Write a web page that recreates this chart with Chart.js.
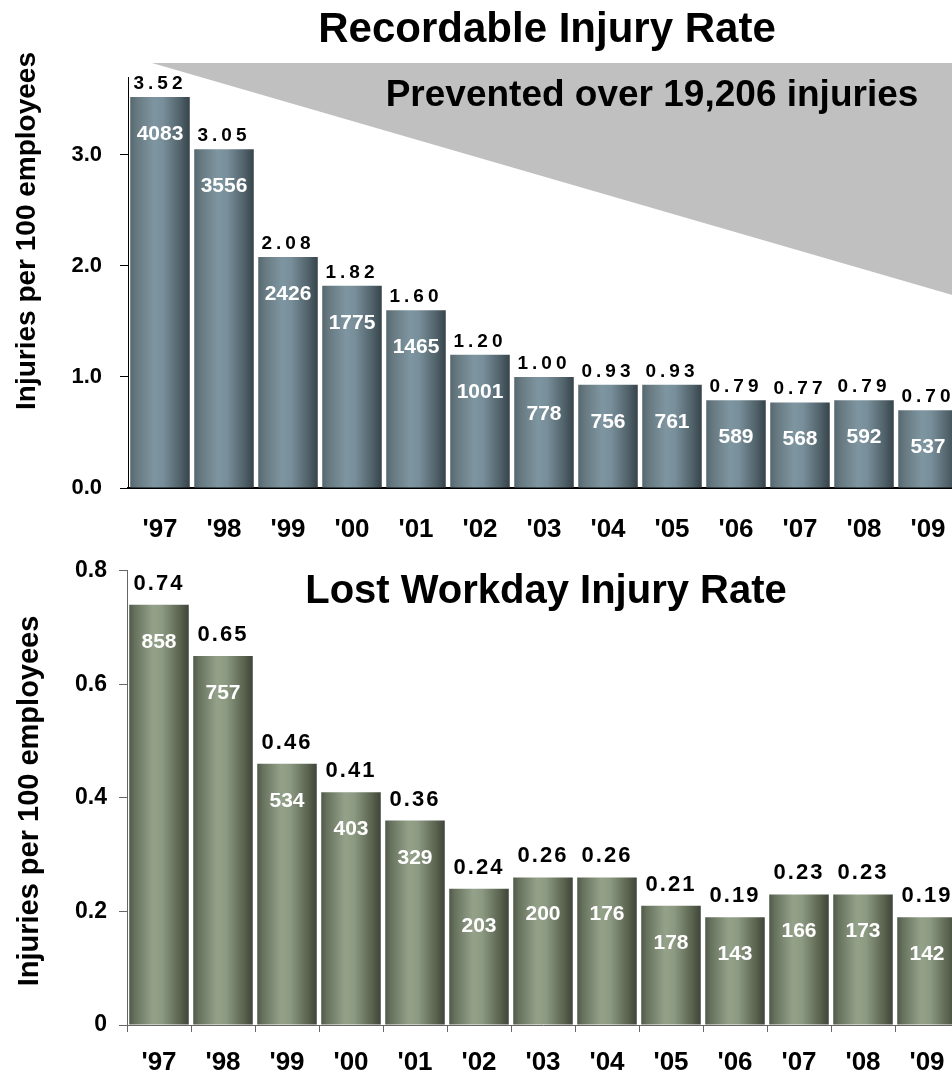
<!DOCTYPE html>
<html><head><meta charset="utf-8">
<script src="https://cdn.jsdelivr.net/npm/chart.js@4.4.1/dist/chart.umd.min.js"></script>
<style>
html,body{margin:0;padding:0;background:#fff;overflow:hidden;width:952px;height:1073px;}
#wrap{position:relative;width:952px;height:1073px;overflow:hidden;background:#fff;}
canvas{position:absolute;left:0;}
#c1{top:0;}
#c2{top:545px;}
</style></head><body>
<div id="wrap">
<canvas id="c1" width="980" height="545"></canvas>
<canvas id="c2" width="980" height="528"></canvas>
</div>
<script>
// ---- data ----
const years = ["'97","'98","'99","'00","'01","'02","'03","'04","'05","'06","'07","'08","'09"];
const recordableRates = [3.52, 3.05, 2.08, 1.82, 1.60, 1.20, 1.00, 0.93, 0.93, 0.79, 0.77, 0.79, 0.70];
const recordableCounts = [4083, 3556, 2426, 1775, 1465, 1001, 778, 756, 761, 589, 568, 592, 537];
const lostRates = [0.74, 0.65, 0.46, 0.41, 0.36, 0.24, 0.26, 0.26, 0.21, 0.19, 0.23, 0.23, 0.19];
const lostCounts = [858, 757, 534, 403, 329, 203, 200, 176, 178, 143, 166, 173, 142];
const recordableTickValues = [0, 1, 2, 3];
const recordableTickLabels = ['0.0', '1.0', '2.0', '3.0'];
const lostTickValues = [0, 0.2, 0.4, 0.6, 0.8];
const lostTickLabels = ['0', '0.2', '0.4', '0.6', '0.8'];
const recordableTitle = 'Recordable Injury Rate';
const lostTitle = 'Lost Workday Injury Rate';
const preventedText = 'Prevented over 19,206 injuries';
const yAxisTitle = 'Injuries per 100 employees';

// ---- style ----
const FONT = "'Liberation Sans', Arial, Helvetica, sans-serif";
const BAR_PCT = 0.93;
const blueStops = [[0, '#56676f'], [0.1, '#66787f'], [0.4, '#7e96a1'], [0.55, '#788f9a'], [0.85, '#4f6068'], [1, '#36434a']];
const greenStops = [[0, '#515a49'], [0.1, '#68735f'], [0.4, '#95a28a'], [0.55, '#8d9a82'], [0.85, '#5a6450'], [1, '#3e4538']];

function barGradient(stops) {
  return function (c) {
    const chart = c.chart;
    const xs = chart.scales && chart.scales.x;
    if (!xs || !xs.width || c.type !== 'data') return stops[2][1];
    const cx = xs.getPixelForValue(c.dataIndex);
    const w = xs.width / years.length * BAR_PCT;
    const g = chart.ctx.createLinearGradient(cx - w / 2, 0, cx + w / 2, 0);
    stops.forEach(s => g.addColorStop(s[0], s[1]));
    return g;
  };
}

function makePlugin(o) {
  return {
    id: 'deco' + o.key,
    beforeDatasetsDraw(chart) {
      if (o.triangle) {
        const ctx = chart.ctx;
        ctx.save();
        ctx.fillStyle = '#c0c0c0';
        ctx.beginPath();
        ctx.moveTo(152, 63);
        ctx.lineTo(990, 63);
        ctx.lineTo(990, 63 + 0.29 * (990 - 152));
        ctx.closePath();
        ctx.fill();
        ctx.fillStyle = '#000';
        ctx.font = 'bold 37px ' + FONT;
        ctx.textAlign = 'center';
        ctx.textBaseline = 'alphabetic';
        ctx.fillText(preventedText, 652, 106);
        ctx.restore();
      }
    },
    afterDatasetsDraw(chart) {
      const ctx = chart.ctx;
      const meta = chart.getDatasetMeta(0);
      meta.data.forEach((bar, i) => {
        ctx.save();
        ctx.textAlign = 'center';
        ctx.textBaseline = 'alphabetic';
        ctx.fillStyle = '#000';
        ctx.font = o.valueFont;
        ctx.letterSpacing = o.valueSpacing;
        ctx.fillText(o.values[i].toFixed(2), bar.x, bar.y - o.valueGap);
        ctx.letterSpacing = '0px';
        ctx.fillStyle = '#fff';
        ctx.font = 'bold 21px ' + FONT;
        ctx.fillText(String(o.counts[i]), bar.x, bar.y + o.countGap);
        ctx.restore();
      });
    },
    afterDraw(chart) {
      const ctx = chart.ctx;
      ctx.save();
      ctx.fillStyle = '#000';
      ctx.textAlign = 'center';
      ctx.textBaseline = 'alphabetic';
      ctx.font = o.titleFont;
      ctx.fillText(o.title, o.titleX, o.titleY);
      ctx.translate(o.yTitleX, o.yTitleY);
      ctx.rotate(-Math.PI / 2);
      ctx.font = o.yTitleFont;
      ctx.fillText(yAxisTitle, 0, 0);
      ctx.restore();
    }
  };
}

function build(canvasId, o) {
  return new Chart(document.getElementById(canvasId), {
    type: 'bar',
    data: {
      labels: years,
      datasets: [{
        data: o.values,
        backgroundColor: barGradient(o.stops),
        borderWidth: 0,
        categoryPercentage: 1,
        barPercentage: BAR_PCT
      }]
    },
    options: {
      responsive: false,
      devicePixelRatio: 1,
      animation: false,
      events: [],
      layout: { padding: { top: o.padTop, right: o.padRight, left: 0, bottom: 0 } },
      plugins: { legend: { display: false }, tooltip: { enabled: false }, title: { display: false } },
      scales: {
        x: {
          type: 'category',
          afterFit(s) { s.height = o.xHeight; },
          grid: o.xGrid,
          border: o.xBorder,
          ticks: { color: '#000', font: { family: FONT, size: 26, weight: 'bold' }, padding: o.xPad, maxRotation: 0, autoSkip: false }
        },
        y: {
          min: 0, max: o.yMax,
          afterFit(s) { s.width = o.yWidth; },
          afterBuildTicks(s) { s.ticks = o.tickValues.map(v => ({ value: v })); },
          grid: { display: true, drawOnChartArea: false, drawTicks: true, tickLength: 8, color: o.axisColor, lineWidth: 1 },
          border: { display: true, color: o.axisColor, width: 1 },
          ticks: {
            color: '#000',
            font: { family: FONT, size: o.yTickSize, weight: 'bold' },
            padding: o.yPad,
            callback: (v, i) => o.tickLabels[i]
          }
        }
      }
    },
    plugins: [makePlugin(o)]
  });
}

build('c1', {
  key: 'top', values: recordableRates, counts: recordableCounts, stops: blueStops,
  padTop: 77, padRight: 20, xHeight: 57, yWidth: 128, yMax: 3.7,
  tickValues: recordableTickValues, tickLabels: recordableTickLabels,
  xGrid: { display: false }, xBorder: { display: true, color: '#000', width: 2 }, xPad: 18,
  axisColor: '#000', yTickSize: 22, yPad: 18,
  valueFont: 'bold 19px ' + FONT, valueSpacing: '4px', valueGap: 8, countGap: 43,
  triangle: true,
  title: recordableTitle, titleFont: 'bold 42px ' + FONT, titleX: 547, titleY: 42,
  yTitleFont: 'bold 28px ' + FONT, yTitleX: 35, yTitleY: 231
});

build('c2', {
  key: 'bottom', values: lostRates, counts: lostCounts, stops: greenStops,
  padTop: 24, padRight: 21, xHeight: 48, yWidth: 127, yMax: 0.8,
  tickValues: lostTickValues, tickLabels: lostTickLabels,
  xGrid: { display: true, drawOnChartArea: false, drawTicks: true, tickLength: 7, color: '#666', lineWidth: 1, offset: true },
  xBorder: { display: true, color: '#666', width: 1 }, xPad: 15,
  axisColor: '#666', yTickSize: 23, yPad: 12,
  valueFont: 'bold 22px ' + FONT, valueSpacing: '2px', valueGap: 15, countGap: 43,
  triangle: false,
  title: lostTitle, titleFont: 'bold 40px ' + FONT, titleX: 546, titleY: 58,
  yTitleFont: 'bold 29px ' + FONT, yTitleX: 38, yTitleY: 256
});
</script>
</body></html>
